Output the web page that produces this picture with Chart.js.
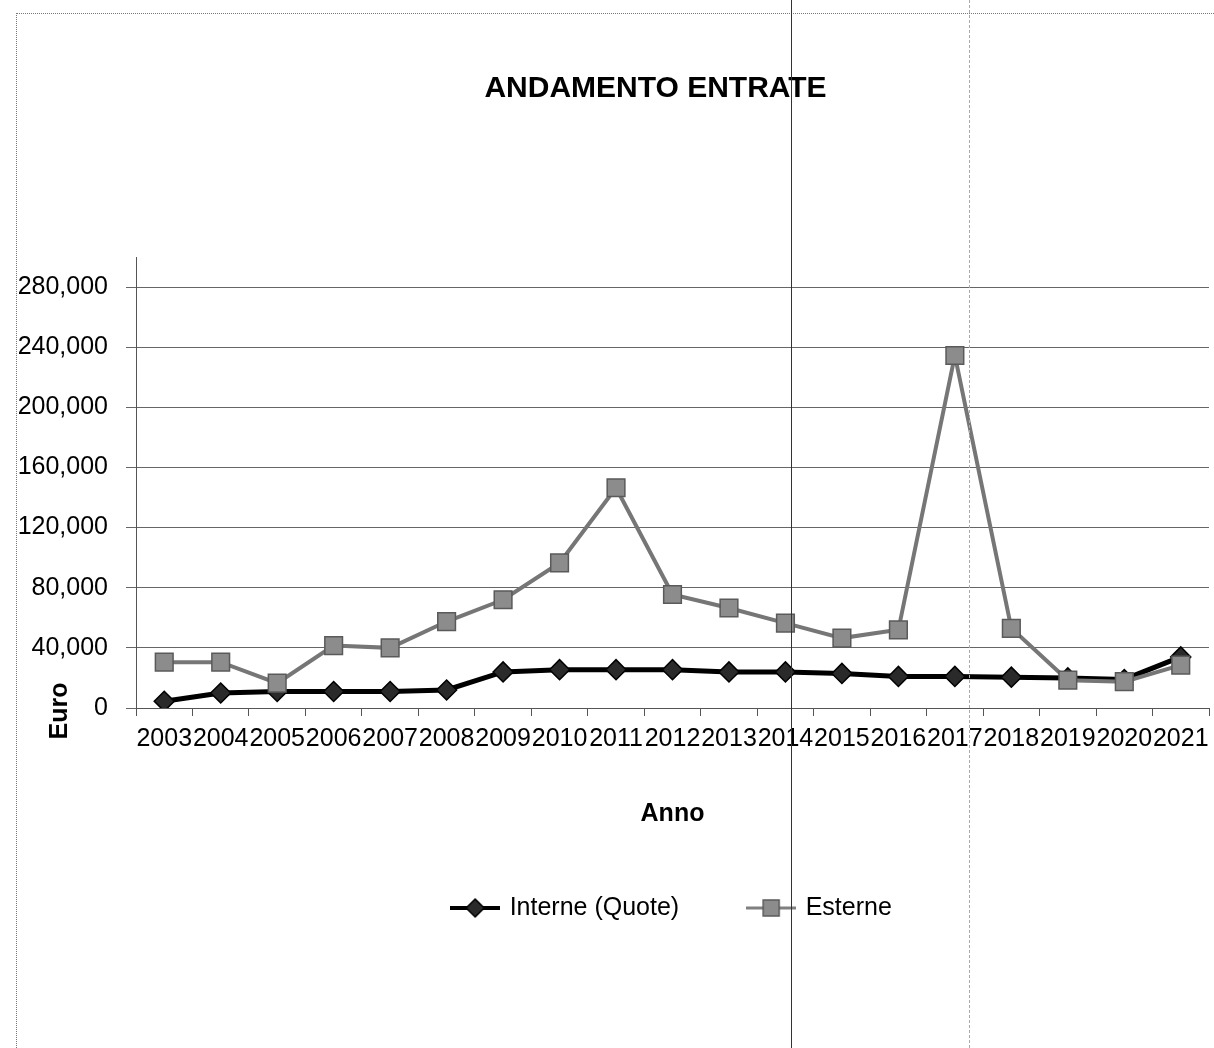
<!DOCTYPE html>
<html>
<head>
<meta charset="utf-8">
<title>Andamento Entrate</title>
<script src="https://cdn.jsdelivr.net/npm/chart.js@4.4.1/dist/chart.umd.min.js"></script>
<style>
    html, body { margin: 0; padding: 0; background: #fff; }
    #wrap { position: relative; width: 1214px; height: 1048px; overflow: hidden; }
    #frame { position: absolute; left: 16px; top: 13px; right: -4px; bottom: -4px; border-left: 1px dotted #777; border-top: 1px dotted #777; pointer-events: none; }
    .scan { position: absolute; top: 0; bottom: 0; width: 0; pointer-events: none; }
    #scan1 { left: 791px; border-left: 1px solid #333; }
    #scan2 { left: 969px; border-left: 1px dashed #aaa; }
</style>
</head>
<body>
<div id="wrap">
    <canvas id="chart" width="1214" height="1048"></canvas>
    <div id="frame"></div>
    <div class="scan" id="scan1"></div>
    <div class="scan" id="scan2"></div>
</div>
<script>
// Data (Euro per year)
const years = ['2003', '2004', '2005', '2006', '2007', '2008', '2009', '2010', '2011', '2012',
               '2013', '2014', '2015', '2016', '2017', '2018', '2019', '2020', '2021'];
const interne = [4500, 10000, 11000, 11000, 11000, 12000, 24000, 25500, 25500, 25500,
                 24000, 24000, 23000, 21000, 21000, 20500, 20000, 19000, 34000];
const esterne = [30500, 30500, 16500, 41500, 40000, 57500, 72000, 96500, 146500, 75500,
                 66500, 56500, 46500, 52000, 234500, 53000, 18500, 17500, 28500];
const yTickValues = [0, 40000, 80000, 120000, 160000, 200000, 240000, 280000];
const seriesNames = ['Interne (Quote)', 'Esterne'];
const chartTitle = 'ANDAMENTO ENTRATE';

const FONT = 'Liberation Sans, Arial, sans-serif';

// -------------------------------------------------------------------------
// Legend icons: line with the marker in the middle (Excel style)
// -------------------------------------------------------------------------

function legendIcon(kind) {
    const c = document.createElement('canvas');
    c.width = 50;
    c.height = 24;
    const g = c.getContext('2d');
    g.strokeStyle = kind === 'diamond' ? '#000' : '#808080';
    g.lineWidth = kind === 'diamond' ? 4 : 3;
    g.beginPath();
    g.moveTo(0, 12);
    g.lineTo(50, 12);
    g.stroke();

    g.lineWidth = 1.5;
    if (kind === 'diamond') {
        g.fillStyle = '#2a2a2a';
        g.strokeStyle = '#000';
        g.beginPath();
        g.moveTo(25, 3);
        g.lineTo(34, 12);
        g.lineTo(25, 21);
        g.lineTo(16, 12);
        g.closePath();
        g.fill();
        g.stroke();
    } else {
        g.fillStyle = '#8c8c8c';
        g.strokeStyle = '#5a5a5a';
        g.fillRect(17, 4, 16, 16);
        g.strokeRect(17, 4, 16, 16);
    }
    return c;
}

const legendIcons = [legendIcon('diamond'), legendIcon('square')];

// Title (a bit left of the plot centre) and the low "Euro" axis title
const extraText = {
    id: 'extraText',
    afterDraw(chart) {
        const ctx = chart.ctx;
        const area = chart.chartArea;
        ctx.save();
        ctx.fillStyle = '#000';
        ctx.textAlign = 'center';
        ctx.textBaseline = 'middle';

        ctx.font = 'bold 30px ' + FONT;
        ctx.fillText(chartTitle, (area.left + area.right) / 2 - 17, 89);

        ctx.translate(60, area.bottom + 3);
        ctx.rotate(-Math.PI / 2);
        ctx.font = 'bold 25px ' + FONT;
        ctx.fillText('Euro', 0, 0);
        ctx.restore();
    }
};

// -------------------------------------------------------------------------
// Chart
// -------------------------------------------------------------------------

new Chart(document.getElementById('chart'), {
    type: 'line',
    data: {
        labels: years,
        datasets: [
            {
                label: seriesNames[0],
                data: interne,
                borderColor: '#000',
                borderWidth: 5,
                pointStyle: 'rectRot',
                pointRadius: 10,
                pointBackgroundColor: '#2a2a2a',
                pointBorderColor: '#000',
                pointBorderWidth: 1.5,
                tension: 0,
                order: 2
            },
            {
                label: seriesNames[1],
                data: esterne,
                borderColor: '#767676',
                borderWidth: 4,
                pointStyle: 'rect',
                pointRadius: 12.5,
                pointBackgroundColor: '#8c8c8c',
                pointBorderColor: '#5a5a5a',
                pointBorderWidth: 1.5,
                tension: 0,
                order: 1
            }
        ]
    },
    options: {
        responsive: false,
        animation: false,
        layout: { autoPadding: false, padding: { left: 0, right: 5, top: 257, bottom: 117.5 } },
        plugins: {
            title: { display: false },
            legend: {
                position: 'bottom',
                fullSize: false,
                labels: {
                    color: '#000',
                    font: { family: FONT, size: 25 },
                    usePointStyle: true,
                    pointStyleWidth: 44,
                    padding: 70,
                    generateLabels: chart => chart.data.datasets.map((ds, i) => ({
                        text: ds.label,
                        pointStyle: legendIcons[i],
                        fillStyle: '#000',
                        strokeStyle: '#000',
                        lineWidth: 0,
                        fontColor: '#000',
                        datasetIndex: i,
                        hidden: false
                    }))
                }
            },
            tooltip: { enabled: false }
        },
        scales: {
            x: {
                type: 'category',
                offset: true,
                afterFit: scale => {
                    scale.height = 117.5;
                    scale.paddingLeft = 0;
                    scale.paddingRight = 0;
                },
                grid: { drawOnChartArea: false, drawTicks: true, tickLength: 8, color: '#555', offset: true },
                border: { color: '#555', width: 1 },
                ticks: {
                    autoSkip: false,
                    maxRotation: 0,
                    minRotation: 0,
                    padding: 8,
                    color: '#000',
                    font: { family: FONT, size: 25 }
                },
                title: {
                    display: true,
                    text: 'Anno',
                    color: '#000',
                    font: { family: FONT, size: 25, weight: 'bold' },
                    padding: { top: 0, bottom: -4 }
                }
            },
            y: {
                min: 0,
                max: 300000,
                afterFit: scale => { scale.width = 136; },
                afterBuildTicks: scale => { scale.ticks = yTickValues.map(v => ({ value: v })); },
                grid: { color: '#666', lineWidth: 1, tickLength: 10 },
                border: { color: '#555', width: 1 },
                ticks: {
                    padding: 18,
                    color: '#000',
                    font: { family: FONT, size: 25 },
                    callback: v => v.toLocaleString('en-US')
                }
            }
        }
    },
    plugins: [extraText]
});
</script>
</body>
</html>
